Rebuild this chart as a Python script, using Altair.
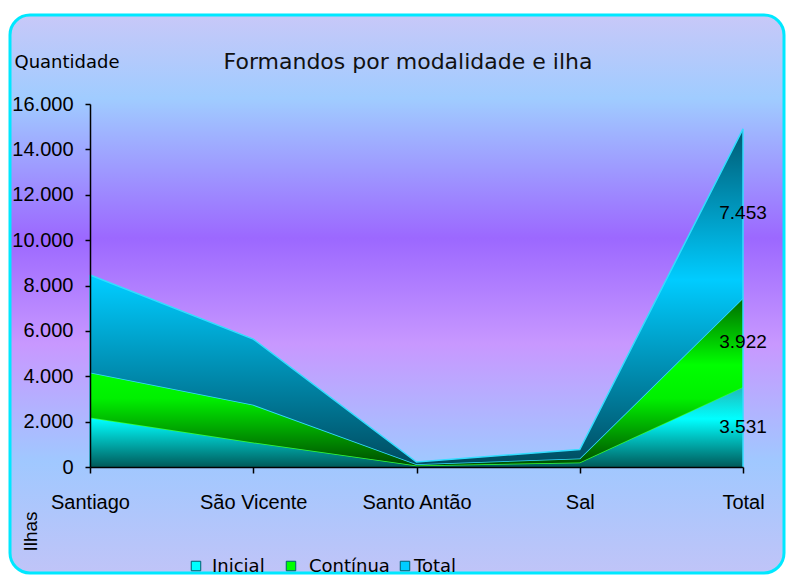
import altair as alt
import pandas as pd

ilhas = ["Santiago", "São Vicente", "Santo Antão", "Sal", "Total"]
series = ["Inicial", "Contínua", "Total"]
inicial = [2180, 1080, 70, 200, 3531]
continua = [1980, 1660, 50, 170, 3922]
total = [4300, 2900, 100, 400, 7453]
y_ticks = [0, 2000, 4000, 6000, 8000, 10000, 12000, 14000, 16000]

values = {"Inicial": inicial, "Contínua": continua, "Total": total}
rows = []
for i, ilha in enumerate(ilhas):
    lower = 0
    for s in series:
        v = values[s][i]
        rows.append({"ilha": ilha, "serie": s, "valor": v, "lower": lower, "upper": lower + v})
        lower += v
df = pd.DataFrame(rows)

W, H = 653, 363
LABEL_FONT = "Liberation Sans, Arial"
TEXT_FONT = "DejaVu Sans"


def grad(stops):
    return alt.Gradient(
        gradient="linear", x1=0, y1=0, x2=0, y2=1,
        stops=[alt.GradientStop(offset=o, color=c) for o, c in stops],
    )


bg = alt.Chart(pd.DataFrame({"a": [0]})).mark_rect(
    cornerRadius=20, stroke="#00e8ff", strokeWidth=3, opacity=1,
    color=grad([(0, "#c8c8f8"), (0.15, "#a0ccff"), (0.40, "#9c68ff"),
                (0.59, "#c898ff"), (0.80, "#a0c8ff"), (1, "#c0c4f8")]),
).encode(x=alt.value(-80), x2=alt.value(694), y=alt.value(-89), y2=alt.value(469))

x_enc = alt.X(
    "ilha:N", sort=ilhas, scale=alt.Scale(type="point", padding=0),
    axis=alt.Axis(
        title="Ilhas", titleAngle=270, titleX=-60, titleY=64, titleAlign="center",
        titleBaseline="middle", titleFont=LABEL_FONT, titleFontSize=19,
        titleFontWeight="normal", titleColor="black",
        labelAngle=0, labelFont=LABEL_FONT, labelFontSize=20, labelColor="black",
        labelPadding=19, tickSize=6, tickColor="black", domainColor="black",
        domainWidth=1.5, tickWidth=1.5, grid=False, zindex=2,
    ),
)
y_axis = alt.Axis(
    values=y_ticks, labelExpr="replace(format(datum.value, ','), ',', '.')",
    title="Quantidade", titleAngle=0, titleX=-76, titleY=-42, titleAlign="left",
    titleBaseline="middle", titleFont=TEXT_FONT, titleFontSize=18,
    titleFontWeight="normal", titleColor="black",
    labelFont=LABEL_FONT, labelFontSize=20, labelColor="black", labelPadding=12,
    tickSize=5, tickColor="black", tickWidth=1.5, domainColor="black", domainWidth=1.5,
    grid=False, zindex=2,
)

styles = {
    "Inicial": (grad([(0, "#20b8b8"), (0.4, "#00ffff"), (1, "#005a5a")]), "#33ff33"),
    "Contínua": (grad([(0, "#006a00"), (0.4, "#00ff00"), (0.6, "#00f000"), (1, "#004c00")]), "#33ddff"),
    "Total": (grad([(0, "#005a72"), (0.45, "#00ccff"), (1, "#004c60")]), "#33ddff"),
}

layers = [bg]
base = alt.Chart(df)
for s in series:
    fill, line = styles[s]
    layers.append(
        base.transform_filter(alt.datum.serie == s)
        .mark_area(color=fill, opacity=1, fillOpacity=1,
                   line={"color": line, "strokeWidth": 1.5, "opacity": 1})
        .encode(
            x=x_enc,
            y=alt.Y("upper:Q", scale=alt.Scale(domain=[0, 16000]), axis=y_axis),
            y2="lower:Q",
        )
    )

edges = base.transform_filter(
    (alt.datum.serie == "Total") & ((alt.datum.ilha == "Total") | (alt.datum.ilha == "Santiago"))
).transform_calculate(zero="0").mark_rule(color="#33ddff", strokeWidth=1.5).encode(
    x=alt.X("ilha:N", sort=ilhas), y="upper:Q", y2="zero:Q"
)
layers.append(edges)

labels = base.transform_filter(alt.datum.ilha == "Total").transform_calculate(
    mid="(datum.lower + datum.upper) / 2",
    label="replace(format(datum.valor, ','), ',', '.')",
).mark_text(font=LABEL_FONT, fontSize=19, color="black", align="center", baseline="middle").encode(
    x=alt.X("ilha:N", sort=ilhas), y="mid:Q", text="label:N"
)
layers.append(labels)

title = alt.Chart(pd.DataFrame({"t": ["Formandos por modalidade e ilha"]})).mark_text(
    font=TEXT_FONT, fontSize=22, color="#111111", align="center", baseline="middle"
).encode(x=alt.value(318), y=alt.value(-42), text="t:N")
layers.append(title)

legend_colors = ["#00ffff", "#00ff00", "#00ccff"]
sq_x = [106, 201, 315]
tx_x = [122, 219, 324]
for s, c, sx, tx in zip(series, legend_colors, sq_x, tx_x):
    ld = pd.DataFrame({"name": [s]})
    layers.append(
        alt.Chart(ld).mark_square(size=90, color=c, opacity=1, stroke="#006070", strokeWidth=1)
        .encode(x=alt.value(sx), y=alt.value(462))
    )
    layers.append(
        alt.Chart(ld).mark_text(font=TEXT_FONT, fontSize=18, color="black", align="left", baseline="middle")
        .encode(x=alt.value(tx), y=alt.value(463), text="name:N")
    )

chart = alt.layer(*layers).properties(
    width=W, height=H,
    autosize=alt.AutoSizeParams(type="none"),
    padding={"left": 82, "top": 96, "right": 43, "bottom": 108},
).configure_view(stroke=None).configure(background="white")

chart.save("out.html", embed_options={"renderer": "svg", "actions": False})
